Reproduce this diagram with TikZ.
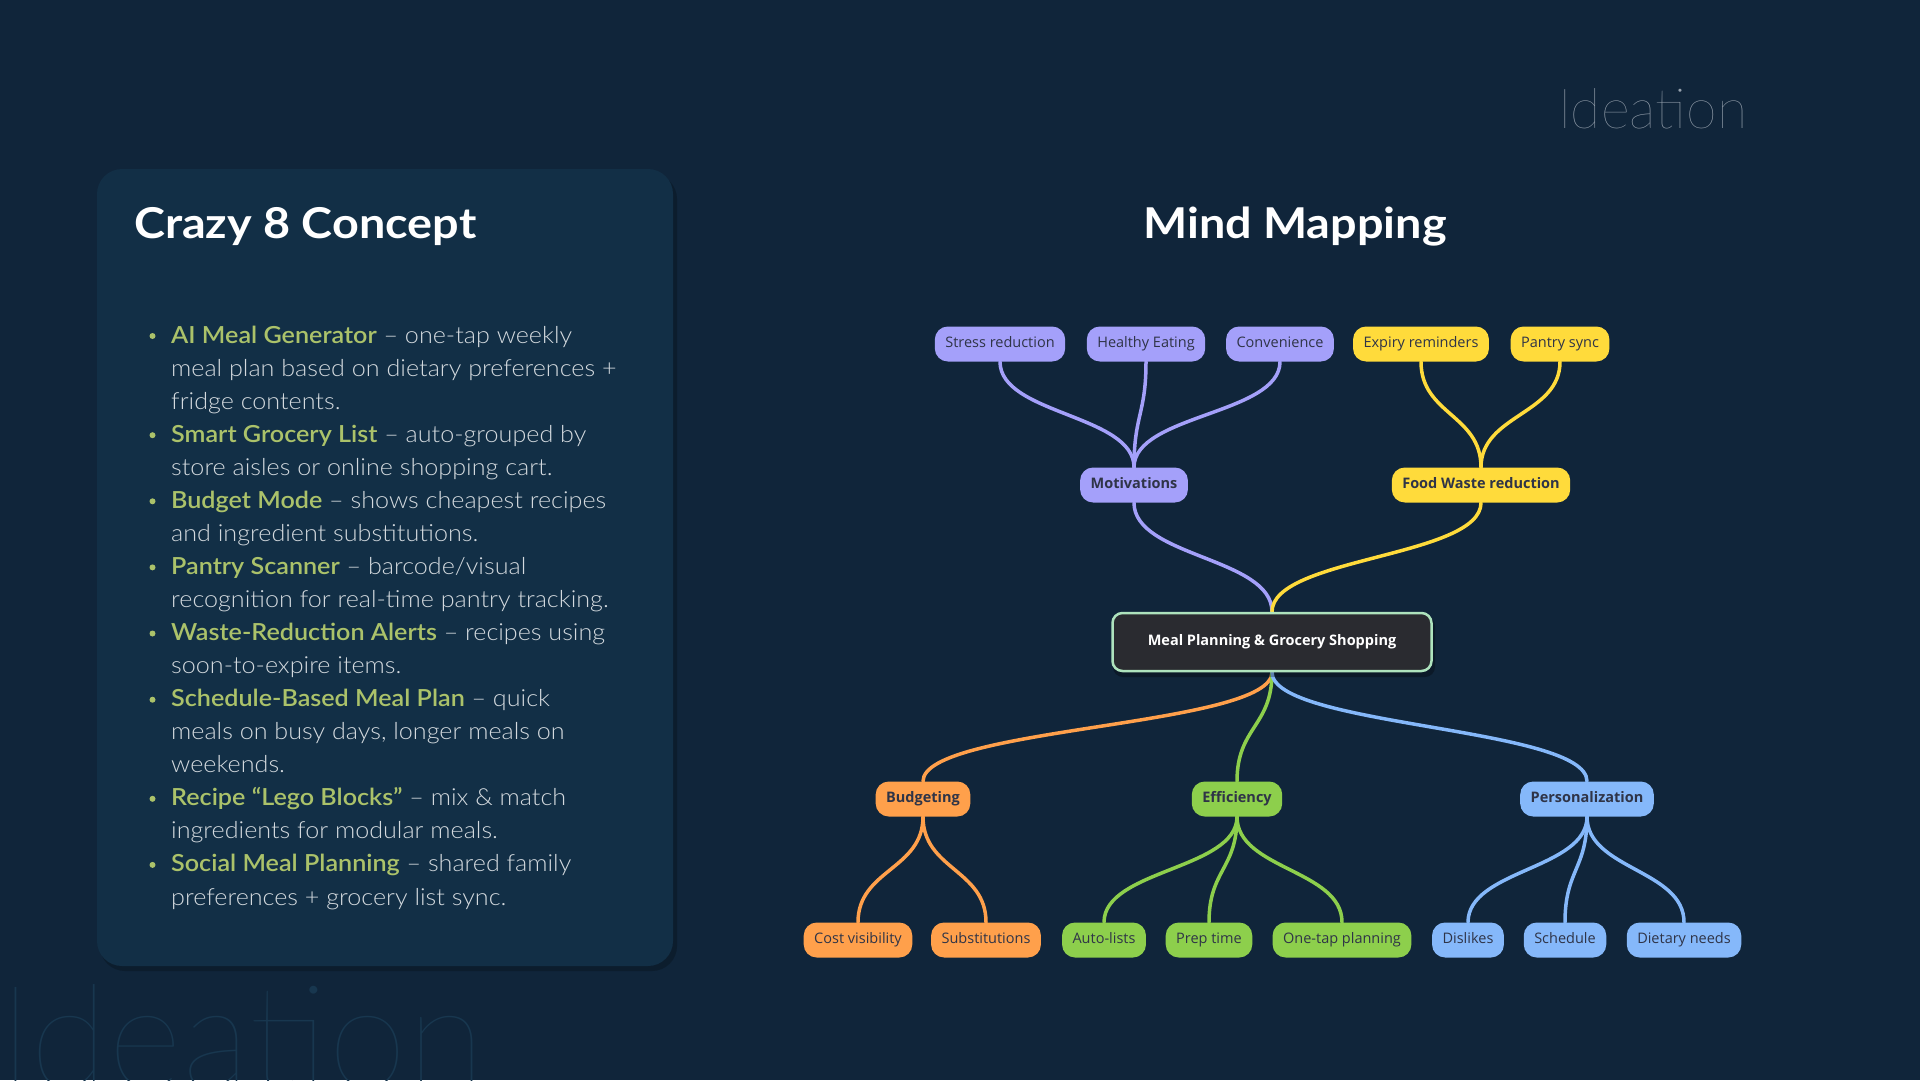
\documentclass[tikz,border=0pt]{standalone}
\usepackage{fontspec}
\setmainfont{Open Sans}
\newfontfamily\latof{Lato}
\IfFontExistsTF{Lato Light}{\newfontfamily\flight{Lato Light}}{%
 \IfFontExistsTF{Fira Sans Light}{\newfontfamily\flight{Fira Sans Light}}{%
  \IfFontExistsTF{Poppins Light}{\newfontfamily\flight{Poppins Light}}{\newfontfamily\flight{Lato}}}}
\IfFontExistsTF{Lato Thin}{\newfontfamily\fthin{Lato Thin}}{%
 \IfFontExistsTF{Lato Hairline}{\newfontfamily\fthin{Lato Hairline}}{%
  \IfFontExistsTF{Fira Sans ExtraLight}{\newfontfamily\fthin{Fira Sans ExtraLight}}{\let\fthin\flight}}}
\IfFontExistsTF{Lato Semibold}{\newfontfamily\fsemi{Lato Semibold}}{%
 \IfFontExistsTF{Lato SemiBold}{\newfontfamily\fsemi{Lato SemiBold}}{\def\fsemi{\latof\bfseries}}}
\def\fbold{\latof\bfseries}
\usetikzlibrary{calc}
\pgfdeclarelayer{bglayer}
\pgfdeclarelayer{edgelayer}
\pgfsetlayers{bglayer,edgelayer,main}
\definecolor{bg}{HTML}{10253A}
\definecolor{panel}{HTML}{122F46}
\definecolor{shadowc}{HTML}{0C1D2D}
\definecolor{wm}{HTML}{18374F}
\definecolor{idea}{HTML}{97A2AE}
\definecolor{hl}{HTML}{ABC26A}
\definecolor{bodyc}{HTML}{D3D9DE}
\definecolor{cpur}{HTML}{A4A0FA}
\definecolor{cyel}{HTML}{FFDB3B}
\definecolor{cora}{HTML}{FFA04B}
\definecolor{cgrn}{HTML}{8DCF4C}
\definecolor{cblu}{HTML}{85B8FA}
\definecolor{ntext}{HTML}{2F3447}
\definecolor{cbox}{HTML}{2A2B30}
\definecolor{cboxb}{HTML}{AEE3BD}
\newcommand\mmlink[3]{%
  \path ($(#2)!0.5!(#3)$) coordinate (mmid);
  \draw[#1] (#2) .. controls (#2 |- mmid) and (#3 |- mmid) .. (#3);}
\newcommand\hlt[1]{{\fsemi\addfontfeatures{FakeStretch=1.07}\color{hl}#1}}
\begin{document}
\begin{tikzpicture}[x=1pt,y=-1pt,
  leaf/.style={rounded corners=13pt, minimum height=35pt, inner xsep=10.5pt, inner ysep=0pt,
    text height=10.5pt, text depth=3pt, font=\fontsize{14.5}{16}\selectfont, text=ntext},
  mid/.style={leaf, font=\bfseries\fontsize{14.5}{16}\selectfont},
  pur/.style={fill=cpur}, yel/.style={fill=cyel}, ora/.style={fill=cora},
  grn/.style={fill=cgrn}, blu/.style={fill=cblu},
  lk/.style={line width=3.5pt, line cap=round},
  line/.style={anchor=base west, inner sep=0pt, text=bodyc,
    font=\flight\fontsize{23.5}{33}\selectfont\addfontfeatures{FakeStretch=1.07}},
  heading/.style={inner sep=0pt, text=white,
    font=\fbold\fontsize{42.5}{42.5}\selectfont\addfontfeatures{FakeStretch=1.1}},
  dot/.style={circle, fill=hl, inner sep=0pt, minimum size=6pt}]
\useasboundingbox (0,0) rectangle (1920,1080);
\begin{pgfonlayer}{bglayer}
\fill[bg] (0,0) rectangle (1920,1080);
\end{pgfonlayer}
% watermark
\node[anchor=base west, inner sep=0pt, text=wm, font=\fthin\fontsize{143}{143}\selectfont] (wmark) at (-2,1087) {Ideation};
\node[anchor=base west, inner sep=0pt, text=idea, font=\fthin\fontsize{55.5}{55.5}\selectfont] (idea) at (1558,128) {Ideation};
% panel
\fill[shadowc, rounded corners=25pt] (100,174) rectangle (677,971);
\fill[panel, rounded corners=25pt] (97,169) rectangle (673,966);
\node[heading, anchor=base west] (c8) at (134,238) {Crazy 8 Concept};
\node[heading, anchor=base] (mmt) at (1295,238) {Mind Mapping};
% bullets
\foreach \i/\y in {1/343.0,2/442.2,3/508.3,4/574.4,5/640.5,6/706.7,7/805.8,8/871.9}
  \node[dot] (b\i) at (152.5,\y-7) {};
\node[line] (l1) at (171,343.0) {\hlt{AI Meal Generator} – one-tap weekly};
\node[line] (l2) at (171,376.1) {meal plan based on dietary preferences +};
\node[line] (l3) at (171,409.1) {fridge contents.};
\node[line] (l4) at (171,442.2) {\hlt{Smart Grocery List} – auto-grouped by};
\node[line] (l5) at (171,475.2) {store aisles or online shopping cart.};
\node[line] (l6) at (171,508.3) {\hlt{Budget Mode} – shows cheapest recipes};
\node[line] (l7) at (171,541.4) {and ingredient substitutions.};
\node[line] (l8) at (171,574.4) {\hlt{Pantry Scanner} – barcode/visual};
\node[line] (l9) at (171,607.5) {recognition for real-time pantry tracking.};
\node[line] (l10) at (171,640.5) {\hlt{Waste-Reduction Alerts} – recipes using};
\node[line] (l11) at (171,673.6) {soon-to-expire items.};
\node[line] (l12) at (171,706.7) {\hlt{Schedule-Based Meal Plan} – quick};
\node[line] (l13) at (171,739.7) {meals on busy days, longer meals on};
\node[line] (l14) at (171,772.8) {weekends.};
\node[line] (l15) at (171,805.8) {\hlt{Recipe “Lego Blocks”} – mix \& match};
\node[line] (l16) at (171,838.9) {ingredients for modular meals.};
\node[line] (l17) at (171,871.9) {\hlt{Social Meal Planning} – shared family};
\node[line] (l18) at (171,905.0) {preferences + grocery list sync.};
% mind map
\fill[black, opacity=0.3, rounded corners=10pt] (1113,616) rectangle (1435,677);
\node[draw=cboxb, line width=2.5pt, fill=cbox, rounded corners=10pt, minimum width=319pt, minimum height=58pt,
  text=white, font=\bfseries\fontsize{14.5}{16}\selectfont] (ctr) at (1272,642) {Meal Planning \& Grocery Shopping};
\node[mid,pur] (mot) at (1134,485) {Motivations};
\node[mid,yel] (fw) at (1481,485) {Food Waste reduction};
\node[mid,ora] (bud) at (923,799) {Budgeting};
\node[mid,grn] (eff) at (1237,799) {Efficiency};
\node[mid,blu] (per) at (1587,799) {Personalization};
\node[leaf,pur] (sr) at (1000,344) {Stress reduction};
\node[leaf,pur] (he) at (1146,344) {Healthy Eating};
\node[leaf,pur] (cv) at (1280,344) {Convenience};
\node[leaf,yel] (er) at (1421,344) {Expiry reminders};
\node[leaf,yel] (ps) at (1560,344) {Pantry sync};
\node[leaf,ora] (cvis) at (858,940) {Cost visibility};
\node[leaf,ora] (sub) at (986,940) {Substitutions};
\node[leaf,grn] (al) at (1104,940) {Auto-lists};
\node[leaf,grn] (pt) at (1209,940) {Prep time};
\node[leaf,grn] (otp) at (1342,940) {One-tap planning};
\node[leaf,blu] (dis) at (1468,940) {Dislikes};
\node[leaf,blu] (sch) at (1565,940) {Schedule};
\node[leaf,blu] (dn) at (1684,940) {Dietary needs};
\begin{pgfonlayer}{edgelayer}
\mmlink{lk,cpur}{sr.south}{mot.north}
\mmlink{lk,cpur}{he.south}{mot.north}
\mmlink{lk,cpur}{cv.south}{mot.north}
\mmlink{lk,cyel}{er.south}{fw.north}
\mmlink{lk,cyel}{ps.south}{fw.north}
\mmlink{lk,cpur}{mot.south}{ctr.north}
\mmlink{lk,cyel}{fw.south}{ctr.north}
\mmlink{lk,cora}{ctr.south}{bud.north}
\mmlink{lk,cgrn}{ctr.south}{eff.north}
\mmlink{lk,cblu}{ctr.south}{per.north}
\mmlink{lk,cora}{bud.south}{cvis.north}
\mmlink{lk,cora}{bud.south}{sub.north}
\mmlink{lk,cgrn}{eff.south}{al.north}
\mmlink{lk,cgrn}{eff.south}{pt.north}
\mmlink{lk,cgrn}{eff.south}{otp.north}
\mmlink{lk,cblu}{per.south}{dis.north}
\mmlink{lk,cblu}{per.south}{sch.north}
\mmlink{lk,cblu}{per.south}{dn.north}
\end{pgfonlayer}
\end{tikzpicture}
\end{document}
